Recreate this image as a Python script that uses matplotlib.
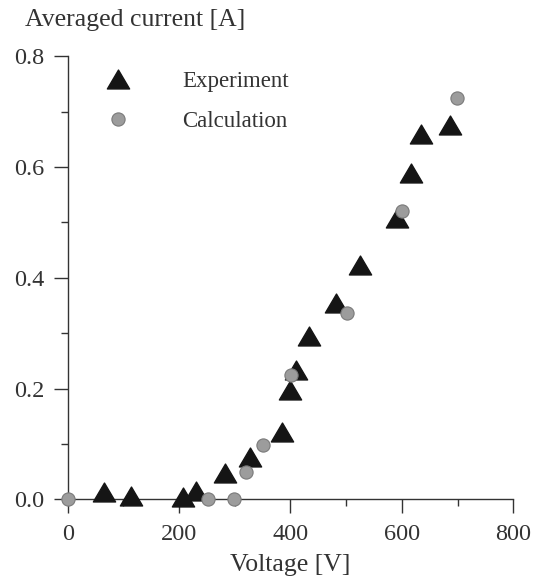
import matplotlib
matplotlib.use("Agg")
import matplotlib.pyplot as plt
from matplotlib.path import Path
from matplotlib.ticker import MultipleLocator

plt.rcParams['font.family'] = ['Liberation Serif', 'DejaVu Serif']

# Experiment (triangles)
exp_v = [65, 113, 207, 231, 282, 327, 384, 400, 410, 433, 481, 524, 592, 617, 635, 686]
exp_i = [0.013, 0.006, 0.004, 0.015, 0.047, 0.077, 0.122, 0.198, 0.234, 0.294,
         0.355, 0.424, 0.508, 0.589, 0.659, 0.677]

# Calculation (grey dots)
calc_v = [0, 252, 298, 320, 350, 401, 502, 601, 699]
calc_i = [0.0, 0.0, 0.0, 0.049, 0.098, 0.224, 0.336, 0.52, 0.725]

ink = '#333333'
tri = Path([(0, 0.85), (-1, -0.85), (1, -0.85), (0, 0.85)], closed=True)

fig = plt.figure(figsize=(5.34, 5.88), dpi=100)
ax = fig.add_axes([0.127, 0.151, 0.834, 0.753])

ax.plot(exp_v, exp_i, linestyle='none', marker=tri, ms=16, color='#151515',
        clip_on=False, zorder=3, label='Experiment')
ax.plot(calc_v, calc_i, linestyle='none', marker='o', ms=9.5,
        markerfacecolor='#9c9c9c', markeredgecolor='#7a7a7a', markeredgewidth=0.8,
        clip_on=False, zorder=4, label='Calculation')

ax.set_xlim(0, 800)
ax.set_ylim(0, 0.8)
ax.xaxis.set_major_locator(MultipleLocator(200))
ax.xaxis.set_minor_locator(MultipleLocator(100))
ax.yaxis.set_major_locator(MultipleLocator(0.2))
ax.yaxis.set_minor_locator(MultipleLocator(0.1))
ax.yaxis.set_major_formatter(plt.FuncFormatter(lambda v, p: f'{v:.1f}'))

for s in ['top', 'right']:
    ax.spines[s].set_visible(False)
for s in ['left', 'bottom']:
    ax.spines[s].set_color(ink)
    ax.spines[s].set_linewidth(1.0)

ax.tick_params(which='major', direction='out', length=10, width=1.0, color=ink,
               labelsize=17.5, labelcolor=ink)
ax.tick_params(which='minor', direction='out', length=5, width=1.0, color=ink)
ax.tick_params(axis='x', which='major', pad=8)
ax.tick_params(axis='y', which='major', pad=7)

ax.set_xlabel('Voltage [V]', fontsize=18.5, color=ink, labelpad=6)
fig.text(25 / 534, 1 - 20 / 588, 'Averaged current [A]', fontsize=18.5, color=ink,
         ha='left', va='center')

ax.legend(loc='center left', bbox_to_anchor=(0.161, 0.827), bbox_transform=fig.transFigure,
          frameon=False, fontsize=16.5, handlelength=2.0, handletextpad=1.8,
          labelspacing=0.82, borderaxespad=0, numpoints=1, labelcolor=ink)

fig.savefig('out.png', dpi=100)
